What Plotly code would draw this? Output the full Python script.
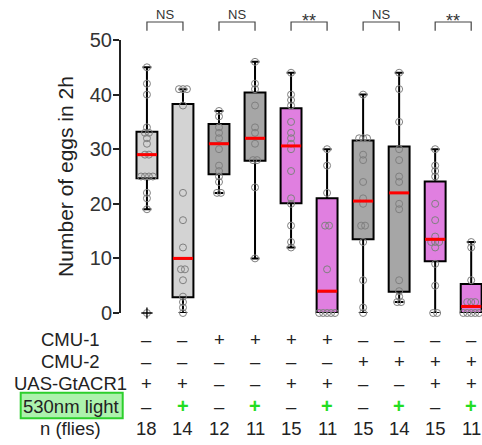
import plotly.graph_objects as go

# ---------------- data ----------------
groups = list(range(1, 11))
points = [
    [45, 42, 40, 34, 33, 33, 32, 31, 29, 29, 25, 25, 25, 25, 22, 21, 19, 0],
    [41, 41, 41, 38, 22, 17, 12, 8, 8, 6, 3, 2, 1, 0],
    [37, 36, 34, 33, 32, 30, 27, 26, 25, 24, 22, 22],
    [46, 42, 41, 38, 34, 33, 31, 28, 28, 23, 10],
    [44, 40, 39, 38, 35, 33, 32, 31, 30, 26, 21, 20, 16, 13, 12],
    [30, 27, 22, 16, 16, 8, 0, 0, 0, 0, 0],
    [40, 32, 32, 32, 29, 28, 24, 21, 20, 16, 16, 13, 6, 1, 0],
    [44, 41, 35, 30, 28, 25, 24, 20, 19, 6, 4, 3, 2, 2],
    [30, 27, 26, 25, 20, 17, 14, 13, 13, 13, 12, 9, 5, 0, 0],
    [13, 12, 6, 2, 2, 2, 0, 0, 0, 0, 0],
]
q1 = [24.7, 2.9, 25.4, 27.9, 20.1, 0, 13.5, 3.9, 9.5, 0]
median = [29, 10, 31, 32, 30.6, 4, 20.5, 22, 13.5, 1.2]
q3 = [33.2, 38.3, 34.6, 40.4, 37.5, 21, 31.6, 30.5, 24.1, 5.3]
lower = [19, 0, 22, 10, 12, 0, 0, 2, 0, 0]
upper = [45, 41, 37, 46, 44, 30, 40, 44, 30, 13]
outliers = [[0], [], [], [], [], [], [], [], [], []]
box_colors = ["#d3d3d3", "#d3d3d3", "#a6a6a6", "#a6a6a6", "#e07fe0",
              "#e07fe0", "#a6a6a6", "#a6a6a6", "#e07fe0", "#e07fe0"]

sig_pairs = [(1, 2), (3, 4), (5, 6), (7, 8), (9, 10)]
sig_labels = ["NS", "NS", "**", "NS", "**"]

row_names = ["CMU-1", "CMU-2", "UAS-GtACR1", "530nm light", "n (flies)"]
cmu1 = ["–", "–", "+", "+", "+", "+", "–", "–", "–", "–"]
cmu2 = ["–", "–", "–", "–", "–", "–", "+", "+", "+", "+"]
uas = ["+", "+", "–", "–", "+", "+", "–", "–", "+", "+"]
light = ["–", "+", "–", "+", "–", "+", "–", "+", "–", "+"]
n_flies = [18, 14, 12, 11, 15, 11, 15, 14, 15, 11]

# ---------------- figure ----------------
W, H = 482, 445
ML, MR, MT, MB = 121, 0, 40, 132
PW, PH = W - ML - MR, H - MT - MB


def py(px):  # pixel y -> paper y
    return (H - MB - px) / PH


def px_(x):  # pixel x -> paper x
    return (x - ML) / PW


fig = go.Figure()
for i, g in enumerate(groups):
    fig.add_trace(go.Box(
        x=[g], q1=[q1[i]], median=[median[i]], q3=[q3[i]],
        lowerfence=[lower[i]], upperfence=[upper[i]],
        width=0.58, whiskerwidth=0.42, fillcolor=box_colors[i],
        line=dict(color="black", width=2), boxpoints=False,
        showlegend=False, hoverinfo="skip"))

# points: duplicates spread horizontally
xs, ys = [], []
for i, g in enumerate(groups):
    vals = points[i]
    seen = {}
    for v in vals:
        seen[v] = seen.get(v, 0) + 1
    for v, k in seen.items():
        for j in range(k):
            xs.append(g + (j - (k - 1) / 2) * 0.11)
            ys.append(v)
fig.add_trace(go.Scatter(
    x=xs, y=ys, mode="markers", cliponaxis=False, showlegend=False,
    marker=dict(symbol="circle-open", size=7, color="#7f7f7f",
                line=dict(width=1, color="#7f7f7f"))))

ox, oy = [], []
for i, g in enumerate(groups):
    for v in outliers[i]:
        ox.append(g)
        oy.append(v)
fig.add_trace(go.Scatter(
    x=ox, y=oy, mode="markers", cliponaxis=False, showlegend=False,
    marker=dict(symbol="cross-thin", size=8,
                line=dict(width=1.3, color="black"))))

shapes = []
for i, g in enumerate(groups):
    shapes.append(dict(type="line", xref="x", yref="y", x0=g - 0.28, x1=g + 0.28,
                       y0=median[i], y1=median[i], layer="above",
                       line=dict(color="#ff0000", width=3)))

annotations = []
yb, yt = py(30.7), py(22)
for (a, b), lab in zip(sig_pairs, sig_labels):
    shapes.append(dict(type="path", xref="x", yref="paper",
                       path=f"M {a},{yb} L {a},{yt} L {b},{yt} L {b},{yb}",
                       line=dict(color="#444444", width=1.2)))
    if lab == "NS":
        annotations.append(dict(x=(a + b) / 2, y=py(14.5), xref="x", yref="paper",
                                text=lab, showarrow=False, xanchor="center", yanchor="middle",
                                font=dict(size=13, color="#333333")))
    else:
        annotations.append(dict(x=(a + b) / 2, y=py(20.5), xref="x", yref="paper",
                                text=lab, showarrow=False, xanchor="center", yanchor="middle",
                                font=dict(size=18, color="#333333")))

row_y = [339.3, 361.7, 383.3, 406, 428.3]
label_font = dict(family="Liberation Sans, Arial", size=18.5, color="#222222")
for name, yy in zip(row_names, row_y):
    annotations.append(dict(x=px_(70.5), y=py(yy), xref="paper", yref="paper", text=name,
                            showarrow=False, xanchor="center", yanchor="middle", font=label_font))

# green box around light label
shapes.append(dict(type="rect", xref="paper", yref="paper",
                   x0=px_(20.7), x1=px_(122.7), y0=py(418.3), y1=py(392.7),
                   fillcolor="#adf2ad", line=dict(color="#2ccf2c", width=2), layer="above"))

rows = [cmu1, cmu2, uas, light, [str(n) for n in n_flies]]
for r, (row, yy) in enumerate(zip(rows, row_y)):
    for i, g in enumerate(groups):
        txt = row[i]
        f = dict(label_font)
        if r == 3 and txt == "+":
            f = dict(family="Liberation Sans, Arial", size=20, color="#22dd22")
            txt = "<b>+</b>"
        annotations.append(dict(x=g, y=py(yy), xref="x", yref="paper", text=txt,
                                showarrow=False, xanchor="center", yanchor="middle", font=f))

fig.update_layout(
    width=W, height=H,
    margin=dict(l=ML, r=MR, t=MT, b=MB, autoexpand=False),
    paper_bgcolor="white", plot_bgcolor="white",
    font=dict(family="Liberation Sans, Arial", color="#222222"),
    shapes=shapes, annotations=annotations,
    xaxis=dict(range=[0.28, 10.3], visible=False, showgrid=False, zeroline=False),
    yaxis=dict(range=[0, 50], dtick=10, showgrid=False, zeroline=False,
               showline=True, linecolor="#222222", linewidth=2,
               ticks="outside", ticklen=6, tickwidth=2, tickcolor="#222222",
               ticklabelstandoff=-3,
               tickfont=dict(size=20, color="#333333"),
               title=dict(text="Number of eggs in 2h", font=dict(size=21, color="#222222"), standoff=10),
               automargin=False),
)

fig.write_html("out.html")
